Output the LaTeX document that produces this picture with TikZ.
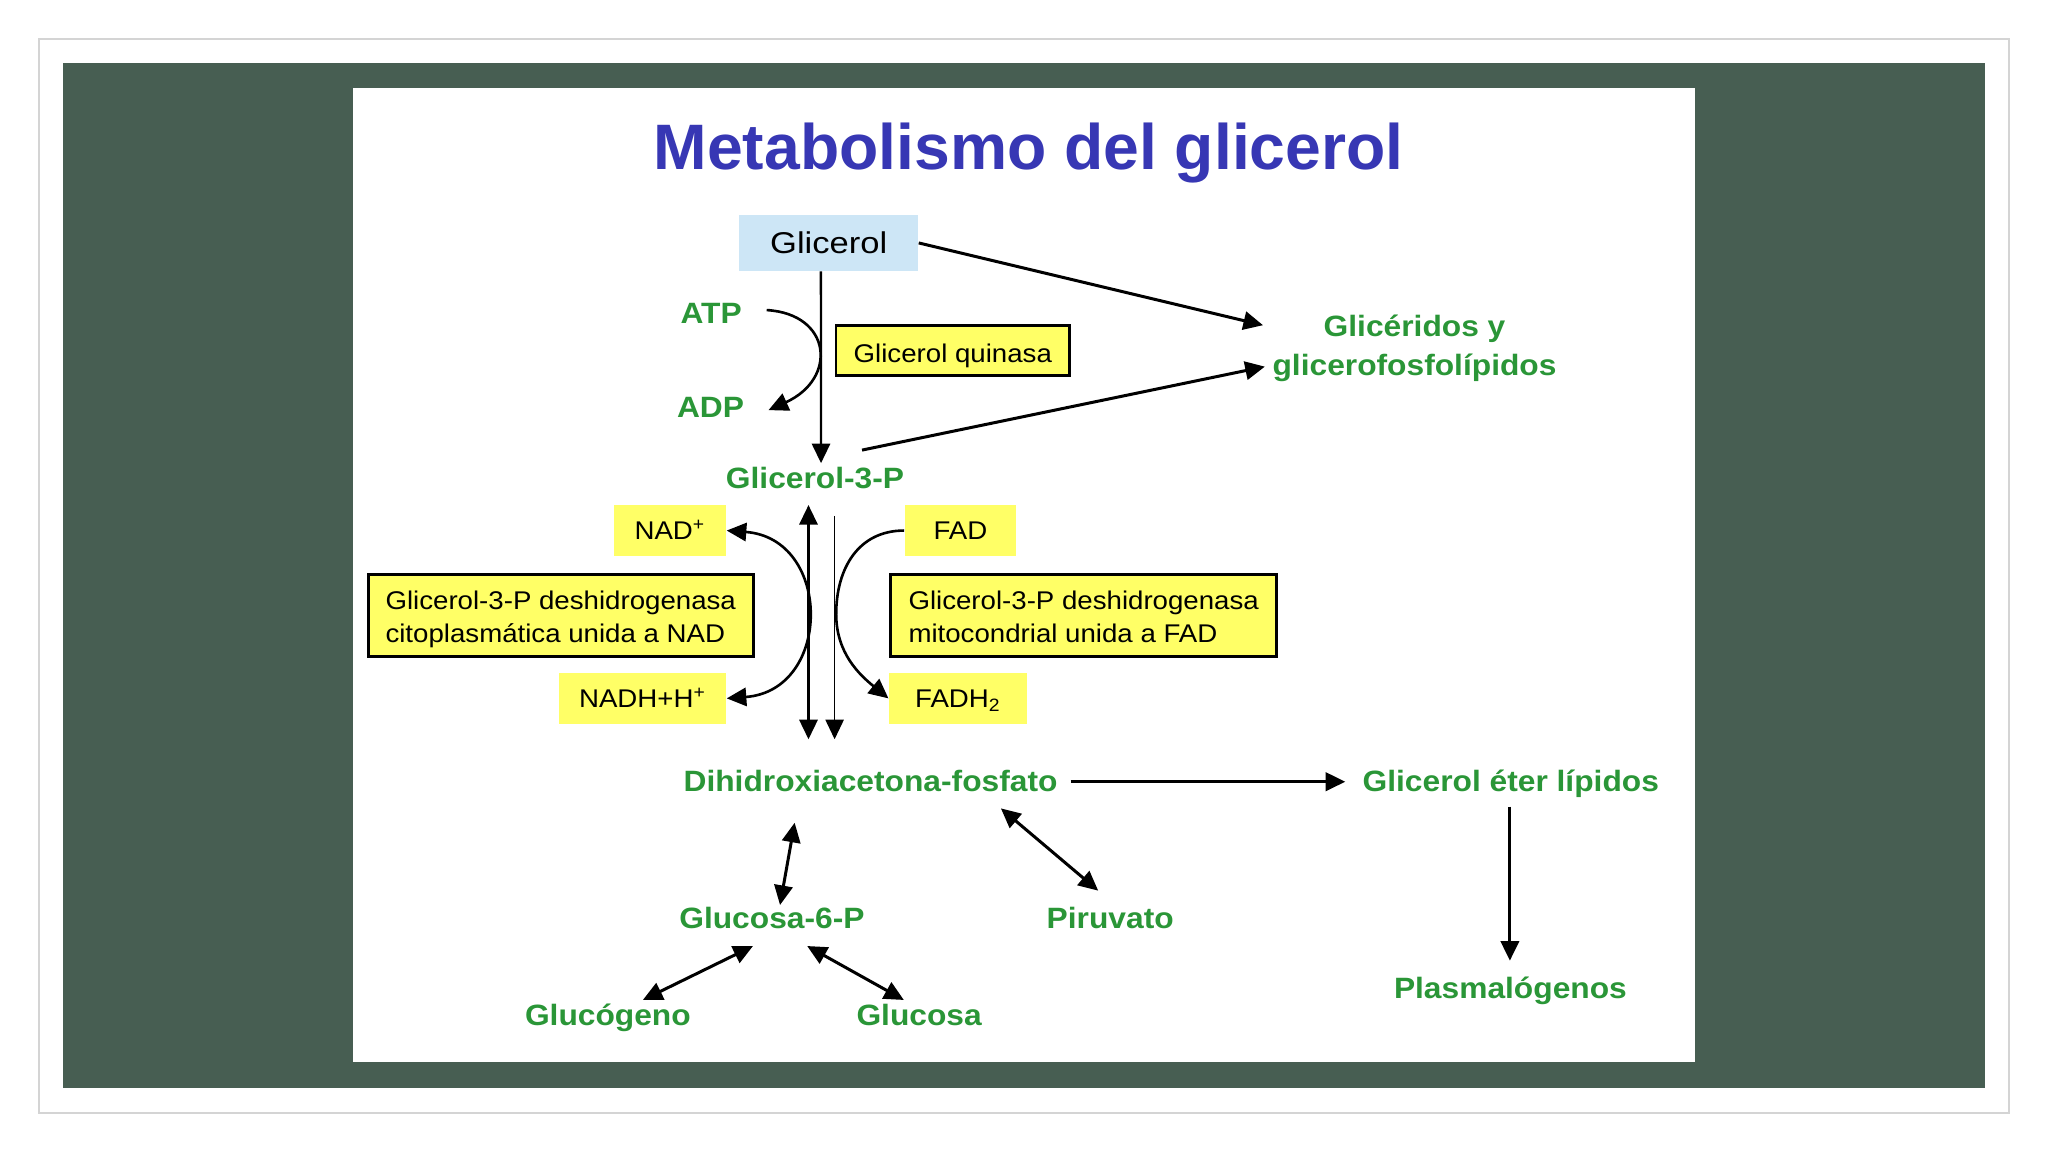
\documentclass[tikz,border=0pt]{standalone}
\usepackage{fontspec}
\setmainfont{Liberation Sans}
\newfontfamily\gfont[FakeStretch=1.08]{Liberation Sans}
\newfontfamily\hfont[FakeStretch=1.15]{Liberation Sans}
\usetikzlibrary{arrows.meta,calc}
\definecolor{bggreen}{RGB}{71,94,82}
\definecolor{framegray}{RGB}{212,212,212}
\definecolor{titleblue}{RGB}{55,55,180}
\definecolor{textgreen}{RGB}{42,150,55}
\definecolor{boxyellow}{RGB}{255,255,102}
\definecolor{lightblue}{RGB}{205,230,246}
\tikzset{ctip/.tip={Triangle[length=7.5pt,width=7pt]}}
\begin{document}
\begin{tikzpicture}[x=0.5pt,y=-0.5pt,
  gtext/.style={text=textgreen,font=\gfont\bfseries\fontsize{11.25pt}{14.9pt}\selectfont,inner sep=0pt},
  btext/.style={font=\gfont\fontsize{9.8pt}{12.65pt}\selectfont,text=black},
  ybox/.style={btext,fill=boxyellow,inner sep=0pt,text height=8pt,text depth=1pt},
  yframe/.style={ybox,draw=black,line width=1.1pt},
  enzbox/.style={yframe,minimum height=31.4pt,align=left,text height=20.3pt,text depth=0pt},
  arr/.style={-ctip,line width=1.15pt},
  darr/.style={ctip-ctip,line width=1.15pt}]
\useasboundingbox (0,0) rectangle (1568,882);
\fill[white] (0,0) rectangle (1568,882);
\draw[framegray,line width=0.75pt] (30,30) rectangle (1538,852);
\fill[bggreen] (48,48) rectangle (1520,833);
\fill[white] (270,67.6) rectangle (1297.8,813);

\node[anchor=base,text=titleblue,font=\bfseries\fontsize{24.6pt}{29pt}\selectfont,inner sep=0pt] (title) at (787.5,130) {Metabolismo del glicerol};

\node[fill=lightblue,minimum width=68.5pt,minimum height=21.3pt,inner sep=0pt,font=\hfont\fontsize{11.5pt}{14pt}\selectfont,text=black,text height=8.2pt,text depth=0pt] (glicerol) at (634.5,186) {Glicerol};

\node[gtext,anchor=base] (atp) at (544.5,247.6) {ATP};
\node[gtext,anchor=base] (adp) at (544,320) {ADP};
\node[gtext,anchor=base] (g3p) at (624,373.8) {Glicerol-3-P};
\node[gtext,align=center] (glic) at (1083,266.5) {Glicéridos y\\glicerofosfolípidos};
\node[yframe,minimum width=89.4pt,minimum height=19.1pt,text height=9pt,text depth=0pt] (quinasa) at (729.5,268.4) {Glicerol quinasa};

\node[ybox,minimum width=43pt,minimum height=19.5pt] (nad) at (513,406.2) {NAD\textsuperscript{+}};
\node[ybox,minimum width=42.7pt,minimum height=19.5pt] (fad) at (735.3,406.2) {FAD};
\node[enzbox,minimum width=147.4pt] (ldh) at (429.3,471.5) {Glicerol-3-P deshidrogenasa\\citoplasmática unida a NAD};
\node[enzbox,minimum width=147.9pt] (rdh) at (829.7,471.5) {Glicerol-3-P deshidrogenasa\\mitocondrial unida a FAD};
\node[ybox,minimum width=64pt,minimum height=19.6pt] (nadh) at (492,534.7) {NADH+H\textsuperscript{+}};
\node[ybox,minimum width=52.9pt,minimum height=19.6pt] (fadh) at (733.5,534.7) {FADH\textsubscript{2}};

\node[gtext,anchor=base] (dhap) at (666.5,606) {Dihidroxiacetona-fosfato};
\node[gtext,anchor=base] (eter) at (1156.7,606) {Glicerol éter lípidos};
\node[gtext,anchor=base] (g6p) at (591,710.8) {Glucosa-6-P};
\node[gtext,anchor=base] (piru) at (850,710.8) {Piruvato};
\node[gtext,anchor=base] (glucogeno) at (465.4,784.8) {Glucógeno};
\node[gtext,anchor=base] (glucosa) at (703.7,784.8) {Glucosa};
\node[gtext,anchor=base] (plasma) at (1156.4,764.3) {Plasmalógenos};

% connectors
\draw[arr,line width=0.9pt] ($(glicerol.south)+(-6,0)$) -- ($(g3p.base)+(4.6,-19.2)$);
\draw[arr,line width=1pt] ($(atp.base)+(42.5,-10.2)$) .. controls +(50,3) and +(53,-24) .. ($(adp.base)+(44.4,-6)$);
\draw[arr] (glicerol.east) -- ($(glic.center)+(-116,-17.5)$);
\draw[arr] ($(g3p.base)+(36,-29.2)$) -- ($(glic.center)+(-114.6,14.2)$);
\draw[darr,line width=1pt] (nad.east) .. controls +(81,6) and +(81,-6) .. (nadh.east);
\draw[arr,line width=1pt] (fad.west) .. controls +(-35,0) and +(0,-35) .. ($(fad.west)+(-52,64)$) .. controls +(0,30) and +(-22,-18) .. (fadh.west);
\draw[darr,line width=0.9pt] ($(g3p.base)+(-5,12.9)$) -- ($(dhap.base)+(-47.5,-40)$);
\draw[arr,line width=0.6pt] ($(g3p.base)+(15,21.2)$) -- ($(dhap.base)+(-27.5,-40)$);
\draw[arr] ($(dhap.base)+(153.1,-7.5)$) -- ($(eter.base)+(-126.7,-7.5)$);
\draw[arr] ($(eter.base)+(-0.7,11.6)$) -- ($(plasma.base)+(-0.4,-28.8)$);
\draw[darr] ($(dhap.base)+(-58.1,23.9)$) -- ($(g6p.base)+(6.2,-17.9)$);
\draw[darr] ($(dhap.base)+(99.8,12.9)$) -- ($(piru.base)+(-9.2,-28.9)$);
\draw[darr] ($(g6p.base)+(-14.5,13.5)$) -- ($(glucogeno.base)+(26.8,-19.2)$);
\draw[darr] ($(g6p.base)+(27,13.5)$) -- ($(glucosa.base)+(-11.7,-19.2)$);
\end{tikzpicture}
\end{document}
